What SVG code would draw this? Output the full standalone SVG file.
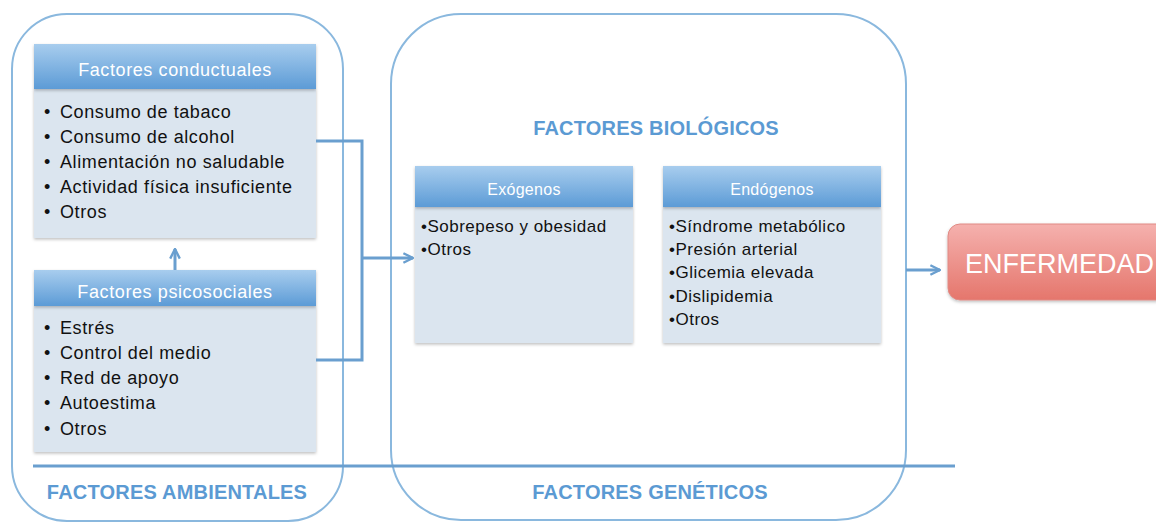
<svg xmlns="http://www.w3.org/2000/svg" width="1156" height="523" viewBox="0 0 1156 523">
<defs>
<linearGradient id="hdr" x1="0" y1="0" x2="0" y2="1">
<stop offset="0" stop-color="#a8cdee"/>
<stop offset="1" stop-color="#5c9bd6"/>
</linearGradient>
<linearGradient id="red" x1="0" y1="0" x2="0" y2="1">
<stop offset="0" stop-color="#f5b1ae"/>
<stop offset="1" stop-color="#e5766c"/>
</linearGradient>
<filter id="sh" x="-10%" y="-10%" width="120%" height="130%">
<feDropShadow dx="0" dy="1.5" stdDeviation="1.5" flood-color="#000" flood-opacity="0.25"/>
</filter>
<marker id="ah" viewBox="0 0 10 10" refX="9" refY="5" markerWidth="4" markerHeight="4" orient="auto" markerUnits="strokeWidth">
<path d="M1,1 L9,5 L1,9" fill="none" stroke="#6a9fcf" stroke-width="2"/>
</marker>
</defs>
<style>
.cont{fill:none;stroke:#8ab8de;stroke-width:2}
.hdr{fill:url(#hdr);filter:url(#sh)}
.body{fill:#dbe5ef;filter:url(#sh)}
.ht{font-family:"Liberation Sans",Arial,sans-serif;font-size:18px;fill:#fff;text-anchor:middle;letter-spacing:0.6px}
.ht2{font-family:"Liberation Sans",Arial,sans-serif;font-size:16px;fill:#fff;text-anchor:middle;letter-spacing:0.3px}
.bt{font-family:"Liberation Sans",Arial,sans-serif;font-size:18px;fill:#111;letter-spacing:0.6px}
.st{font-family:"Liberation Sans",Arial,sans-serif;font-size:17px;fill:#111;letter-spacing:0.5px}
.title{font-family:"Liberation Sans",Arial,sans-serif;font-size:20px;font-weight:bold;fill:#5b9ad3;text-anchor:middle;letter-spacing:0.2px}
.conn{fill:none;stroke:#6a9fcf;stroke-width:3}
</style>

<g id="ambientales">
<rect class="cont" x="12" y="14" width="331" height="507" rx="55"/>
<text class="title" x="177" y="499">FACTORES AMBIENTALES</text>
</g>

<g id="geneticos">
<rect class="cont" x="391" y="14" width="515" height="506" rx="70"/>
<text class="title" x="650" y="499">FACTORES GENÉTICOS</text>
<text class="title" x="656" y="135">FACTORES BIOLÓGICOS</text>
</g>

<g id="conductuales">
<rect class="body" x="34" y="89" width="282" height="149"/>
<rect class="hdr" x="34" y="44" width="282" height="45"/>
<text class="ht" x="175" y="76">Factores conductuales</text>
<text class="bt" x="44" y="118">• <tspan x="60">Consumo de tabaco</tspan></text>
<text class="bt" x="44" y="143">• <tspan x="60">Consumo de alcohol</tspan></text>
<text class="bt" x="44" y="168">• <tspan x="60">Alimentación no saludable</tspan></text>
<text class="bt" x="44" y="193">• <tspan x="60">Actividad física insuficiente</tspan></text>
<text class="bt" x="44" y="218">• <tspan x="60">Otros</tspan></text>
</g>

<g id="psicosociales">
<rect class="body" x="34" y="306" width="282" height="146"/>
<rect class="hdr" x="34" y="270" width="282" height="36"/>
<text class="ht" x="175" y="298">Factores psicosociales</text>
<text class="bt" x="44" y="334">• <tspan x="60">Estrés</tspan></text>
<text class="bt" x="44" y="359">• <tspan x="60">Control del medio</tspan></text>
<text class="bt" x="44" y="384">• <tspan x="60">Red de apoyo</tspan></text>
<text class="bt" x="44" y="409">• <tspan x="60">Autoestima</tspan></text>
<text class="bt" x="44" y="435">• <tspan x="60">Otros</tspan></text>
</g>

<g id="exogenos">
<rect class="body" x="415" y="207" width="218" height="136"/>
<rect class="hdr" x="415" y="166" width="218" height="41"/>
<text class="ht2" x="524" y="195">Exógenos</text>
<text class="st" x="421" y="232">•Sobrepeso y obesidad</text>
<text class="st" x="421" y="255">•Otros</text>
</g>

<g id="endogenos">
<rect class="body" x="663" y="207" width="218" height="136"/>
<rect class="hdr" x="663" y="166" width="218" height="41"/>
<text class="ht2" x="772" y="195">Endógenos</text>
<text class="st" x="669" y="232">•Síndrome metabólico</text>
<text class="st" x="669" y="255">•Presión arterial</text>
<text class="st" x="669" y="278">•Glicemia elevada</text>
<text class="st" x="669" y="302">•Dislipidemia</text>
<text class="st" x="669" y="325">•Otros</text>
</g>

<g id="enfermedad">
<rect x="948" y="224" width="220" height="76" rx="12" fill="url(#red)" stroke="#e08a84" stroke-width="1" filter="url(#sh)"/>
<text x="965" y="273" font-family="'Liberation Sans',Arial,sans-serif" font-size="27" fill="#fff">ENFERMEDAD</text>
</g>

<g id="connectors">
<line x1="33" y1="466" x2="955" y2="466" stroke="#6a9fcf" stroke-width="3"/>
<line class="conn" x1="175" y1="270" x2="175" y2="249" marker-end="url(#ah)"/>
<polyline class="conn" points="316,141 362,141 362,360 316,360"/>
<line class="conn" x1="362" y1="258" x2="413" y2="258" marker-end="url(#ah)"/>
<line class="conn" x1="906" y1="270" x2="940" y2="270" marker-end="url(#ah)"/>
</g>
</svg>
